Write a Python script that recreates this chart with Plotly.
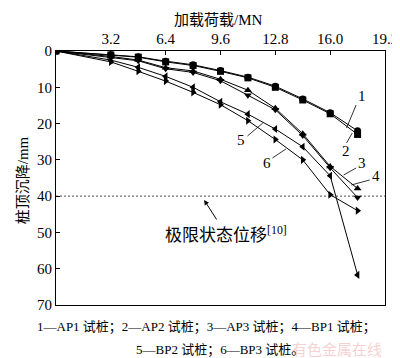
import plotly.graph_objects as go

loads = [0, 3.2, 4.8, 6.4, 8.0, 9.6, 11.2, 12.8, 14.4, 16.0, 17.6]
ap1 = [0, 1.0, 1.6, 2.8, 3.8, 5.4, 7.2, 9.7, 13.2, 17.0, 22.0]
ap2 = [0, 1.1, 1.7, 3.0, 4.0, 5.6, 7.4, 10.0, 13.5, 17.3, 23.0]
ap3 = [0, 1.5, 2.5, 4.6, 5.5, 7.8, 10.8, 15.8, 22.8, 31.8, 37.9]
bp1 = [0, 1.8, 2.7, 4.9, 5.9, 8.2, 12.2, 16.2, 23.3, 32.2, 40.4]
bp2 = [0, 2.5, 4.5, 7.0, 10.0, 14.0, 17.4, 21.5, 26.4, 34.4, 61.7]
bp3 = [0, 3.0, 5.6, 8.3, 11.4, 14.8, 19.2, 24.4, 30.0, 39.6, 44.0]
series_names = ["AP1", "AP2", "AP3", "BP1", "BP2", "BP3"]
symbols = ["circle", "square", "triangle-up", "triangle-down", "triangle-left", "triangle-right"]
x_ticks = [3.2, 6.4, 9.6, 12.8, 16.0, 19.2]
x_ticktext = ["3.2", "6.4", "9.6", "12.8", "16.0", "19.2"]
limit_disp = 40

FONT = "Liberation Serif, Times New Roman, Noto Sans CJK SC, serif"

fig = go.Figure()
for name, ys, sym in zip(series_names, [ap1, ap2, ap3, bp1, bp2, bp3], symbols):
    fig.add_trace(go.Scatter(
        x=loads, y=ys, name=name, mode="lines+markers",
        line=dict(color="black", width=1),
        marker=dict(symbol=sym, size=7, color="black"),
        showlegend=False,
    ))

fig.add_shape(type="line", xref="paper", x0=0, x1=1, yref="y", y0=limit_disp, y1=limit_disp,
              line=dict(color="black", width=0.7, dash="2px,2px"))

fig.update_layout(
    width=400, height=358,
    margin=dict(l=48, r=10, t=43, b=61),
    paper_bgcolor="white", plot_bgcolor="white",
    font=dict(family=FONT, size=15, color="black"),
    xaxis=dict(side="top", range=[0, 19.2], tickvals=x_ticks, ticktext=x_ticktext,
               ticks="inside", ticklen=4, tickcolor="black", showline=True, linecolor="black",
               linewidth=1, mirror=True, showgrid=False, zeroline=False,
               tickfont=dict(size=15), ticklabeloverflow="allow"),
    yaxis=dict(range=[70, 0], dtick=10, tick0=0, ticks="inside", ticklen=4, tickcolor="black",
               showline=True, linecolor="black", linewidth=1, mirror=True, showgrid=False,
               zeroline=False, tickfont=dict(size=15), ticklabeloverflow="allow"),
)

fig.add_annotation(xref="paper", yref="paper", x=(217 - 48) / 342, y=1 + 31 / 254,
                   text="加载荷载/MN", showarrow=False, font=dict(size=15), xanchor="center", yanchor="middle")
fig.add_annotation(xref="paper", yref="paper", x=-34 / 342, y=1 - (172 - 43) / 254,
                   text="桩顶沉降/mm", textangle=-90, showarrow=False, font=dict(size=15),
                   xanchor="center", yanchor="middle")

def px2x(px):
    return (px - 48) / 342 * 19.2

def py2y(py):
    return (py - 43) / 254 * 70

labels = [
    ("1", 366, 88, 360, 97, 350, 120),
    ("2", 349, 143, 350, 135, 356, 125),
    ("3", 366, 155, 360, 160, 347, 167),
    ("4", 381, 168, 374, 172, 355, 177),
    ("5", 240, 132, 247, 128, 263, 115),
    ("6", 267, 155, 273, 150, 287, 141),
]
for t, tx, ty, lx0, ly0, lx1, ly1 in labels:
    fig.add_annotation(x=px2x(tx), y=py2y(ty), text=t, showarrow=False,
                       font=dict(size=15), xanchor="center", yanchor="middle")
    fig.add_shape(type="line", x0=px2x(lx0), y0=py2y(ly0), x1=px2x(lx1), y1=py2y(ly1),
                  line=dict(color="black", width=0.8))

fig.add_annotation(x=px2x(202), y=py2y(192), ax=px2x(216), ay=py2y(213), axref="x", ayref="y",
                   text="", showarrow=True, arrowhead=2, arrowsize=1, arrowwidth=1, arrowcolor="black")
fig.add_annotation(x=px2x(225), y=py2y(226), text="极限状态位移<sup>[10]</sup>", showarrow=False,
                   font=dict(size=17), xanchor="center", yanchor="middle")

fig.add_annotation(xref="paper", yref="paper", x=(204 - 48) / 342, y=-(319 - 297) / 254,
                   text="1—AP1 试桩；2—AP2 试桩；3—AP3 试桩；4—BP1 试桩；", showarrow=False,
                   font=dict(size=13), xanchor="center", yanchor="middle")
fig.add_annotation(xref="paper", yref="paper", x=(218 - 48) / 342, y=-(342 - 297) / 254,
                   text="5—BP2 试桩；6—BP3 试桩。", showarrow=False,
                   font=dict(size=13), xanchor="center", yanchor="middle")
fig.add_annotation(xref="paper", yref="paper", x=(340 - 48) / 342, y=-(340 - 297) / 254,
                   text="有色金属在线", showarrow=False,
                   font=dict(size=15, color="rgba(240,170,170,0.55)", family="Noto Sans CJK SC"),
                   xanchor="center", yanchor="middle")

fig.write_html("out.html")
